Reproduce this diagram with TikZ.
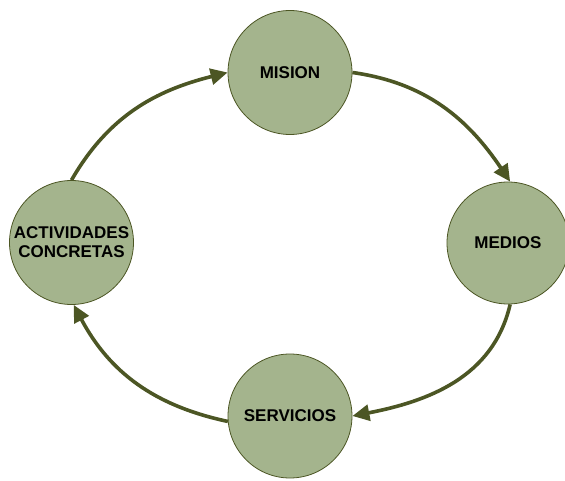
\documentclass[tikz,border=0pt]{standalone}
\usepackage{fontspec}
\setmainfont{Liberation Sans}
\usetikzlibrary{arrows.meta}
\definecolor{sage}{RGB}{164,180,141}
\definecolor{olive}{RGB}{76,86,36}
\begin{document}
\begin{tikzpicture}
		[x=1pt,y=1pt,
		etapa/.style={circle,draw=olive,line width=0.8pt,fill=sage,
			minimum size=124pt,inner sep=0pt,align=center,
			font=\fontsize{17}{19}\selectfont\bfseries},
		flujo/.style={draw=olive,line width=3.6pt,
			-{Triangle[length=17pt,width=16pt]}}]
		\useasboundingbox (0,0) rectangle (565,480);
		\node[etapa] (mision) at (290,407.5) {MISION};
		\node[etapa,minimum size=122pt] (medios) at (508,237) {MEDIOS};
		\node[etapa] (servicios) at (290,64) {SERVICIOS};
		\node[etapa] (actividades) at (71.5,237.5) {ACTIVIDADES\\CONCRETAS};
		\draw[flujo] (mision.east) to[out=-8,in=124] (medios.88);
		\draw[flujo] (medios.-88) to[out=-103,in=11] (servicios.east);
		\draw[flujo] (servicios.185) to[out=168,in=-62] (actividades.-88);
		\draw[flujo] (actividades.north) to[out=60,in=194] (mision.west);
	\end{tikzpicture}
\end{document}
